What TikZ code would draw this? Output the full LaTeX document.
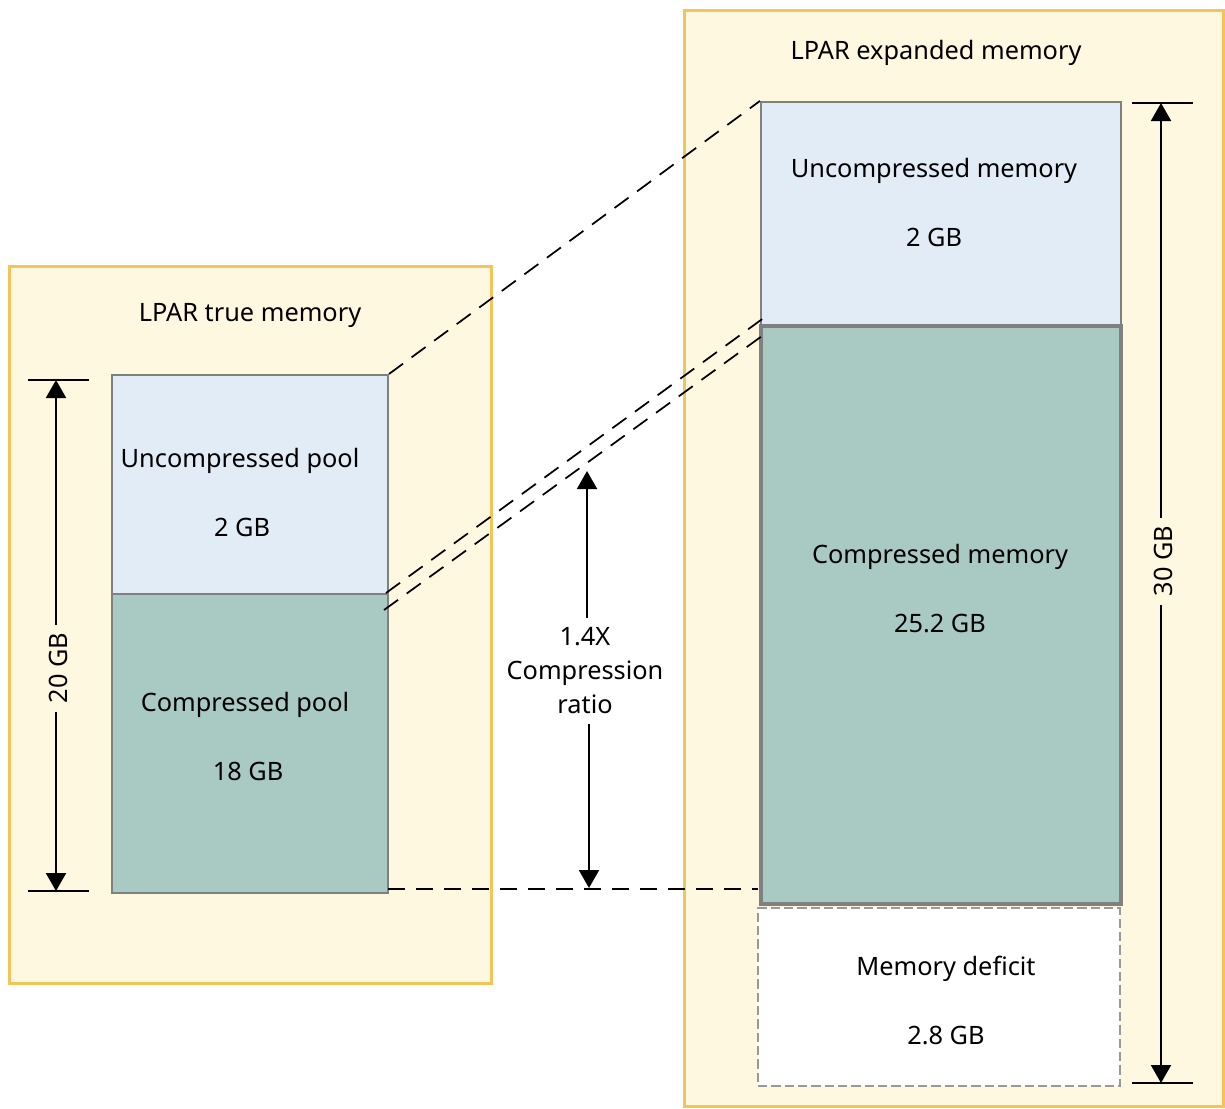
\documentclass[tikz,border=0pt]{standalone}
\usepackage{fontspec}
\setmainfont{Noto Sans}
\usetikzlibrary{arrows.meta,calc}
\definecolor{cream}{HTML}{FFF8E1}
\definecolor{gold}{HTML}{F2C45A}
\definecolor{lblue}{HTML}{E1ECF7}
\definecolor{teal}{HTML}{A8CAC3}
\definecolor{boxgray}{HTML}{808080}
\definecolor{dgray}{HTML}{999999}
\tikzset{
  container/.style={draw=gold, fill=cream, line width=2.25pt, rectangle, inner sep=0pt},
  membox/.style={draw=boxgray, line width=1.6pt, rectangle, inner sep=0pt},
  deficit/.style={draw=dgray, fill=white, line width=1.6pt, dash pattern=on 7pt off 3pt, rectangle, inner sep=0pt},
  lbl/.style={font=\fontsize{19}{25.5}\selectfont, text=black, inner sep=0pt},
  dimlbl/.style={font=\fontsize{19}{25.5}\selectfont, rotate=90, inner sep=6pt},
  dimarrow/.style={line width=1.5pt, -{Triangle[width=15pt,length=13.5pt]}},
  tick/.style={line width=1.5pt},
  guide/.style={line width=1.3pt, dash pattern=on 13pt off 8pt}
}
\begin{document}
\begin{tikzpicture}[x=0.75pt,y=-0.75pt]
\useasboundingbox (0,0) rectangle (1225,1108);
% containers
\node[container, minimum width=361.5pt, minimum height=537.75pt] (leftC) at (250,624.5) {};
\node[container, minimum width=404.25pt, minimum height=822pt] (rightC) at (953.5,558) {};
% left boxes
\node[membox, fill=lblue, minimum width=207pt, minimum height=164.25pt] (lu) at (250,484.5) {};
\node[membox, fill=teal, minimum width=207pt, minimum height=224.25pt] (lc) at (250,743.5) {};
% right boxes
\node[membox, fill=lblue, minimum width=270pt, minimum height=168pt] (ru) at (941,214) {};
\node[membox, fill=teal, line width=2.3pt, minimum width=270pt, minimum height=433.5pt] (rc) at (941,615) {};
\node[deficit, minimum width=271.5pt, minimum height=133.5pt] (rd) at (939,997) {};
% titles and texts
\node[lbl] (tTrue) at (250,315) {LPAR true memory};
\node[lbl] (tExp) at (936,53) {LPAR expanded memory};
\node[lbl] (tLu1) at (240,461) {Uncompressed pool};
\node[lbl] (tLu2) at (242,527) {2 GB};
\node[lbl] (tLc1) at (245,705) {Compressed pool};
\node[lbl] (tLc2) at (248,771) {18 GB};
\node[lbl] (tRu1) at (934,171) {Uncompressed memory};
\node[lbl] (tRu2) at (934,237) {2 GB};
\node[lbl] (tRc1) at (940,557) {Compressed memory};
\node[lbl] (tRc2) at (940,623) {25.2 GB};
\node[lbl] (tRd1) at (946,969) {Memory deficit};
\node[lbl] (tRd2) at (946,1035) {2.8 GB};
% guide dashed lines
\coordinate (gA1) at (386,593);
\coordinate (gA2) at (765,317);
\coordinate (gB1) at (384,610);
\coordinate (gB2) at (762,336);
\coordinate (gC1) at (388,889);
\coordinate (gC2) at (758,889);
\draw[guide] (lu.north east) -- (ru.north west);
\draw[guide] (gA1) -- (gA2);
\draw[guide] (gB1) -- (gB2);
\draw[guide] (gC1) -- (gC2);
% left dimension
\coordinate (l20a) at (28,380);
\coordinate (l20b) at (89,380);
\coordinate (l20c) at (28,891);
\coordinate (l20d) at (89,891);
\coordinate (a20top) at (56,380);
\coordinate (a20bot) at (56,891);
\draw[tick] (l20a) -- (l20b);
\draw[tick] (l20c) -- (l20d);
\node[dimlbl] (d20) at (58,668) {20 GB};
\draw[dimarrow] (d20.east -| a20top) -- (a20top);
\draw[dimarrow] (d20.west -| a20bot) -- (a20bot);
% right dimension
\coordinate (r30a) at (1132,103);
\coordinate (r30b) at (1193,103);
\coordinate (r30c) at (1132,1083);
\coordinate (r30d) at (1193,1083);
\coordinate (a30top) at (1161,103);
\coordinate (a30bot) at (1161,1083);
\draw[tick] (r30a) -- (r30b);
\draw[tick] (r30c) -- (r30d);
\node[dimlbl] (d30) at (1163,561) {30 GB};
\draw[dimarrow] (d30.east -| a30top) -- (a30top);
\draw[dimarrow] (d30.west -| a30bot) -- (a30bot);
% compression ratio
\node[lbl, align=center, inner sep=7pt] (cr) at (585,671) {1.4X\\Compression\\ratio};
\coordinate (crtop) at (587,471);
\coordinate (crbot) at (589,888);
\draw[dimarrow] (cr.north -| crtop) -- (crtop);
\draw[dimarrow] (cr.south -| crbot) -- (crbot);
\end{tikzpicture}
\end{document}
